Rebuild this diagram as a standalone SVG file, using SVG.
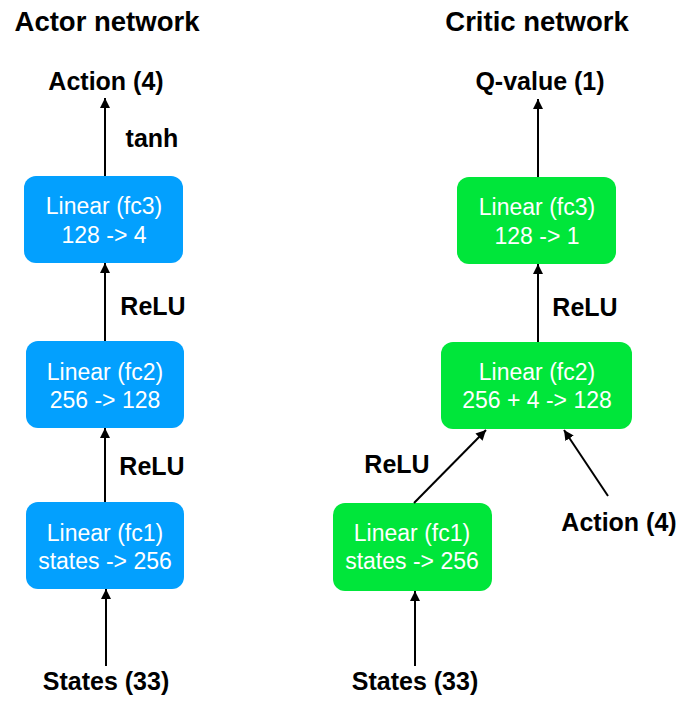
<svg xmlns="http://www.w3.org/2000/svg" width="688" height="713" viewBox="0 0 688 713">
<style>
.t{font-family:"Liberation Sans",Arial,sans-serif;font-weight:bold;font-size:25px;fill:#000;text-anchor:middle}
.h{font-size:27.5px}
.b{font-family:"Liberation Sans",Arial,sans-serif;font-size:23px;fill:#fff;text-anchor:middle}
.blue{fill:#03A0FE}
.green{fill:#00E63A}
.c{stroke:#000;stroke-width:2;fill:none;marker-end:url(#ah)}
</style>
<defs>
<marker id="ah" viewBox="0 0 10 10" refX="10" refY="5" markerWidth="5" markerHeight="5" markerUnits="strokeWidth" orient="auto">
<path d="M0,0 L10,5 L0,10 z" fill="#000"/>
</marker>
</defs>
<rect width="688" height="713" fill="#fff"/>
<g id="labels">
<text class="t h" x="107" y="31">Actor network</text>
<text class="t h" x="537" y="31">Critic network</text>
<text class="t" x="106" y="90">Action (4)</text>
<text class="t" x="152" y="147">tanh</text>
<text class="t" x="153" y="315">ReLU</text>
<text class="t" x="152" y="475">ReLU</text>
<text class="t" x="106" y="690">States (33)</text>
<text class="t" x="540" y="90">Q-value (1)</text>
<text class="t" x="585" y="316">ReLU</text>
<text class="t" x="397" y="473">ReLU</text>
<text class="t" x="619" y="531">Action (4)</text>
<text class="t" x="415" y="690">States (33)</text>
</g>
<g id="actor_fc3"><rect class="blue" x="24" y="176" width="159" height="87" rx="12"/><text class="b" x="104" y="214">Linear (fc3)</text><text class="b" x="104" y="243">128 -&gt; 4</text></g>
<g id="actor_fc2"><rect class="blue" x="26" y="341" width="158" height="87" rx="12"/><text class="b" x="105" y="380">Linear (fc2)</text><text class="b" x="105" y="408">256 -&gt; 128</text></g>
<g id="actor_fc1"><rect class="blue" x="26" y="502" width="158" height="87" rx="12"/><text class="b" x="105" y="541">Linear (fc1)</text><text class="b" x="105" y="569">states -&gt; 256</text></g>
<g id="critic_fc3"><rect class="green" x="457" y="177" width="159" height="87" rx="12"/><text class="b" x="537" y="215">Linear (fc3)</text><text class="b" x="537" y="244">128 -&gt; 1</text></g>
<g id="critic_fc2"><rect class="green" x="441" y="342" width="191" height="87" rx="12"/><text class="b" x="537" y="380">Linear (fc2)</text><text class="b" x="537" y="408">256 + 4 -&gt; 128</text></g>
<g id="critic_fc1"><rect class="green" x="333" y="503" width="159" height="88" rx="12"/><text class="b" x="412" y="541">Linear (fc1)</text><text class="b" x="412" y="569">states -&gt; 256</text></g>
<g id="connectors">
<line class="c" x1="105" y1="176" x2="105" y2="98"/>
<line class="c" x1="105" y1="341" x2="105" y2="263"/>
<line class="c" x1="105" y1="502" x2="105" y2="428"/>
<line class="c" x1="106" y1="666" x2="106" y2="589"/>
<line class="c" x1="538" y1="177" x2="538" y2="99"/>
<line class="c" x1="538" y1="342" x2="538" y2="264"/>
<line class="c" x1="414" y1="503" x2="486" y2="430"/>
<line class="c" x1="608" y1="496" x2="564" y2="430"/>
<line class="c" x1="415" y1="666" x2="415" y2="591"/>
</g>
</svg>
